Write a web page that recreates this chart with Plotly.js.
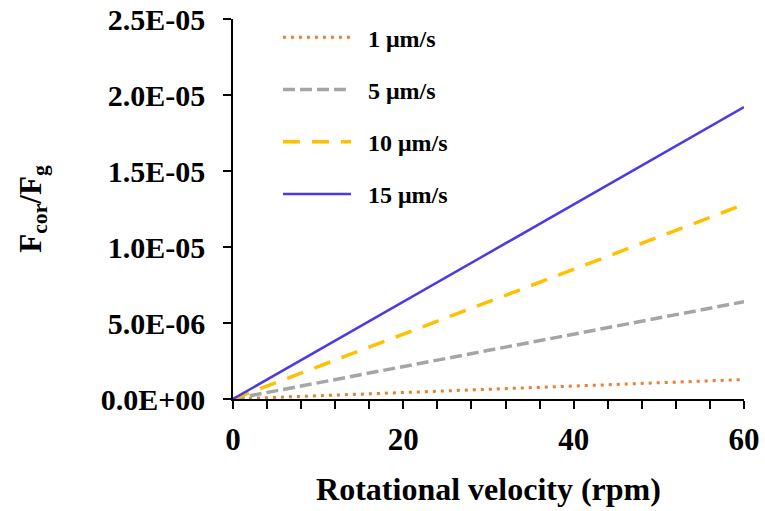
<!DOCTYPE html>
<html>
<head>
<meta charset="utf-8">
<script src="https://cdn.plot.ly/plotly-3.0.1.min.js"></script>
<style>html,body{margin:0;padding:0;background:#fff;}#chart{width:765px;height:511px;}</style>
</head>
<body>
<div id="chart"></div>
<script>
// Data
const rpm = [0, 10, 20, 30, 40, 50, 60];
const v1  = [0, 2.13e-7, 4.27e-7, 6.4e-7, 8.53e-7, 1.07e-6, 1.28e-6];
const v5  = [0, 1.07e-6, 2.13e-6, 3.2e-6, 4.27e-6, 5.33e-6, 6.4e-6];
const v10 = [0, 2.13e-6, 4.27e-6, 6.4e-6, 8.53e-6, 1.07e-5, 1.28e-5];
const v15 = [0, 3.2e-6, 6.4e-6, 9.6e-6, 1.28e-5, 1.6e-5, 1.92e-5];
const seriesNames = ['1 μm/s', '5 μm/s', '10 μm/s', '15 μm/s'];

const xTickVals = [0,4,8,12,16,20,24,28,32,36,40,44,48,52,56,60];
const xTickText = ['0','','','','','20','','','','','40','','','','','60'];
const yTickVals = [0, 5e-6, 1e-5, 1.5e-5, 2e-5, 2.5e-5];
const yTickText = ['0.0E+00','5.0E-06','1.0E-05','1.5E-05','2.0E-05','2.5E-05'];

const serif = 'Liberation Serif, Times New Roman, serif';
const pad = '\u2002'; // visual gap between legend sample and label

const traces = [
  {x: rpm, y: v1,  name: pad + seriesNames[0], line: {color: '#ED7D31', width: 3, dash: '3px,5px'}},
  {x: rpm, y: v5,  name: pad + seriesNames[1], line: {color: '#A5A5A5', width: 3.5, dash: '12px,5px'}},
  {x: rpm, y: v10, name: pad + seriesNames[2], line: {color: '#FFC000', width: 3.5, dash: '17px,12px'}},
  {x: rpm, y: v15, name: pad + seriesNames[3], line: {color: '#4B3BE3', width: 2.5}}
].map((t, i) => Object.assign({type: 'scatter', mode: 'lines', legendgroup: 'g' + i}, t));

const layout = {
  width: 765, height: 511,
  margin: {l: 233, r: 21, t: 19, b: 112},
  paper_bgcolor: '#fff', plot_bgcolor: '#fff',
  showlegend: true,
  legend: {
    x: 0.088, y: 1.01, xanchor: 'left', yanchor: 'top',
    font: {family: serif, size: 24, color: '#000', weight: 700},
    traceorder: 'grouped', tracegroupgap: 18, itemwidth: 68,
    bgcolor: 'rgba(0,0,0,0)'
  },
  xaxis: {
    range: [0, 60], showgrid: false, zeroline: false,
    showline: true, linecolor: '#000', linewidth: 1.5,
    ticks: 'outside', ticklen: 8, tickwidth: 1.5, tickcolor: '#000',
    tickmode: 'array', tickvals: xTickVals, ticktext: xTickText,
    ticklabelstandoff: 4,
    tickfont: {family: serif, size: 31, color: '#000', weight: 700},
    title: {text: 'Rotational velocity (rpm)', font: {family: serif, size: 32, color: '#000', weight: 700}, standoff: 22}
  },
  yaxis: {
    range: [0, 2.5e-5], showgrid: false, zeroline: false,
    showline: true, linecolor: '#000', linewidth: 1.5,
    ticks: 'outside', ticklen: 8, tickwidth: 1.5, tickcolor: '#000',
    tickmode: 'array', tickvals: yTickVals, ticktext: yTickText,
    ticklabeloverflow: 'allow', ticklabelstandoff: 12,
    tickfont: {family: serif, size: 30, color: '#000', weight: 700},
    title: {text: 'F<sub>cor</sub>/F<sub>g</sub>', font: {family: serif, size: 31, color: '#000', weight: 700}, standoff: 50}
  }
};

Plotly.newPlot('chart', traces, layout, {displayModeBar: false, responsive: false});
</script>
</body>
</html>
